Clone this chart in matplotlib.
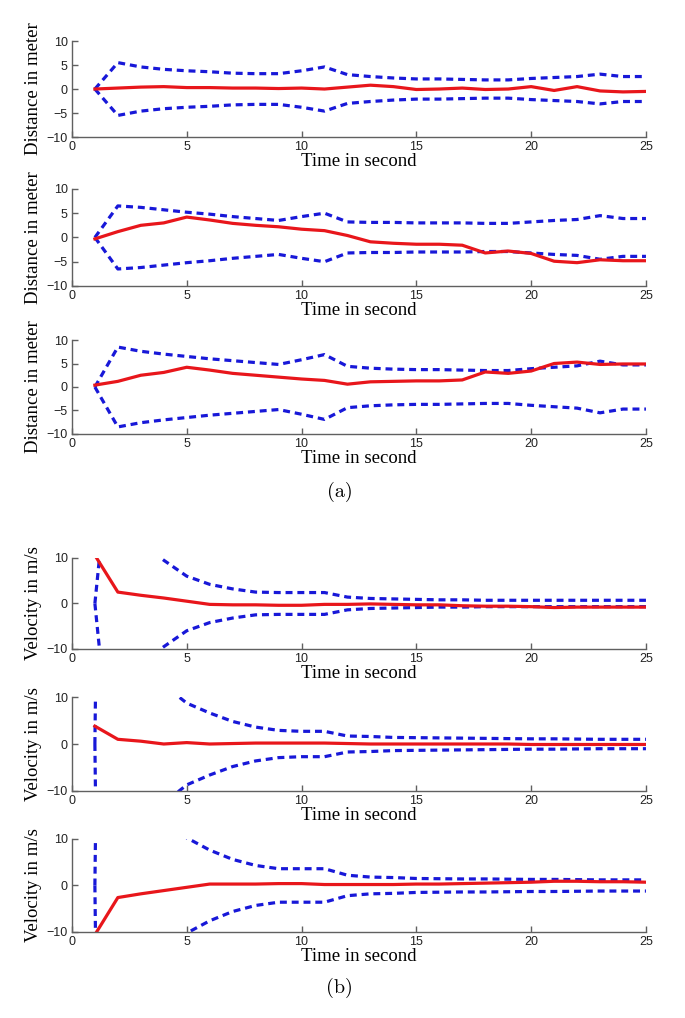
import matplotlib.pyplot as plt

plt.rcParams['lines.scale_dashes'] = False

t = list(range(1, 26))

# (a) distance estimates and bounds
dist1 = [0, 0.2, 0.4, 0.5, 0.3, 0.3, 0.2, 0.2, 0.1, 0.2, 0.0, 0.4, 0.8,
         0.5, -0.1, 0.0, 0.2, -0.1, 0.0, 0.5, -0.3, 0.5, -0.4, -0.6, -0.5]
dist1_hi = [0, 5.5, 4.6, 4.1, 3.8, 3.6, 3.3, 3.2, 3.2, 3.8, 4.6, 3.0, 2.6,
            2.3, 2.1, 2.1, 2.0, 1.9, 1.9, 2.2, 2.4, 2.6, 3.1, 2.6, 2.6]
dist1_lo = [0, -5.5, -4.6, -4.1, -3.8, -3.6, -3.3, -3.2, -3.2, -3.8, -4.6, -3.0, -2.6,
            -2.3, -2.1, -2.1, -2.0, -1.9, -1.9, -2.2, -2.4, -2.6, -3.1, -2.6, -2.6]

dist2 = [-0.3, 1.2, 2.5, 3.0, 4.2, 3.6, 2.9, 2.5, 2.2, 1.7, 1.4, 0.4, -0.9,
         -1.2, -1.4, -1.4, -1.6, -3.2, -2.8, -3.3, -4.9, -5.2, -4.6, -4.8, -4.8]
dist2_hi = [0, 6.5, 6.2, 5.7, 5.2, 4.8, 4.3, 3.9, 3.5, 4.3, 5.0, 3.2, 3.1,
            3.1, 3.0, 3.0, 3.0, 2.9, 2.9, 3.2, 3.5, 3.7, 4.5, 3.9, 3.9]
dist2_lo = [0, -6.5, -6.2, -5.7, -5.2, -4.8, -4.3, -3.9, -3.5, -4.3, -5.0, -3.2, -3.1,
            -3.1, -3.0, -3.0, -3.0, -2.9, -2.9, -3.2, -3.5, -3.7, -4.5, -3.9, -3.9]

dist3 = [0.4, 1.2, 2.5, 3.1, 4.2, 3.6, 2.9, 2.5, 2.1, 1.7, 1.4, 0.6, 1.1,
         1.2, 1.3, 1.3, 1.5, 3.2, 2.9, 3.4, 5.0, 5.3, 4.8, 4.9, 4.9]
dist3_hi = [0, 8.5, 7.6, 7.0, 6.5, 6.0, 5.6, 5.2, 4.8, 5.8, 6.9, 4.4, 4.0,
            3.8, 3.7, 3.7, 3.6, 3.5, 3.5, 3.9, 4.2, 4.5, 5.5, 4.7, 4.7]
dist3_lo = [0, -8.5, -7.6, -7.0, -6.5, -6.0, -5.6, -5.2, -4.8, -5.8, -6.9, -4.4, -4.0,
            -3.8, -3.7, -3.7, -3.6, -3.5, -3.5, -3.9, -4.2, -4.5, -5.5, -4.7, -4.7]

# (b) velocity estimates and bounds
vel1 = [10.6, 2.5, 1.8, 1.2, 0.5, -0.2, -0.3, -0.3, -0.4, -0.4, -0.2, -0.2, -0.1,
        -0.2, -0.3, -0.3, -0.5, -0.6, -0.6, -0.7, -0.9, -0.8, -0.8, -0.8, -0.8]
vel1_hi = [0, 50, 13.3, 9.5, 6.0, 4.2, 3.2, 2.5, 2.4, 2.4, 2.4, 1.4, 1.1,
           1.0, 0.9, 0.8, 0.8, 0.7, 0.7, 0.7, 0.7, 0.7, 0.7, 0.7, 0.7]
vel1_lo = [0, -50, -13.3, -9.5, -6.0, -4.2, -3.2, -2.5, -2.4, -2.4, -2.4, -1.4, -1.1,
           -1.0, -0.9, -0.8, -0.8, -0.7, -0.7, -0.7, -0.7, -0.7, -0.7, -0.7, -0.7]

vel2 = [3.8, 1.0, 0.6, 0.0, 0.3, 0.0, 0.1, 0.2, 0.2, 0.2, 0.2, 0.1, 0.0,
        0.0, 0.0, 0.0, 0.0, 0.0, 0.0, -0.1, -0.1, -0.1, -0.1, -0.1, -0.1]
vel2_hi = [0, 400, 40, 12.6, 8.7, 6.6, 4.8, 3.6, 2.9, 2.7, 2.7, 1.7, 1.6,
           1.4, 1.35, 1.3, 1.25, 1.2, 1.15, 1.1, 1.1, 1.05, 1.0, 1.0, 1.0]
vel2_lo = [0, -400, -40, -12.6, -8.7, -6.6, -4.8, -3.6, -2.9, -2.7, -2.7, -1.7, -1.6,
           -1.4, -1.35, -1.3, -1.25, -1.2, -1.15, -1.1, -1.1, -1.05, -1.0, -1.0, -1.0]

vel3 = [-10.6, -2.6, -1.8, -1.1, -0.4, 0.3, 0.3, 0.3, 0.4, 0.4, 0.2, 0.2, 0.2,
        0.2, 0.3, 0.3, 0.4, 0.5, 0.6, 0.7, 0.9, 0.9, 0.8, 0.8, 0.7]
vel3_hi = [0, 400, 60, 25, 10.24, 7.6, 5.6, 4.3, 3.6, 3.6, 3.6, 2.2, 1.8,
           1.7, 1.5, 1.45, 1.4, 1.4, 1.35, 1.3, 1.3, 1.25, 1.2, 1.2, 1.2]
vel3_lo = [0, -400, -60, -25, -10.24, -7.6, -5.6, -4.3, -3.6, -3.6, -3.6, -2.2, -1.8,
           -1.7, -1.5, -1.45, -1.4, -1.4, -1.35, -1.3, -1.3, -1.25, -1.2, -1.2, -1.2]

panels = [
    (dist1, dist1_hi, dist1_lo, 'Distance in meter', [-10, -5, 0, 5, 10]),
    (dist2, dist2_hi, dist2_lo, 'Distance in meter', [-10, -5, 0, 5, 10]),
    (dist3, dist3_hi, dist3_lo, 'Distance in meter', [-10, -5, 0, 5, 10]),
    (vel1, vel1_hi, vel1_lo, 'Velocity in m/s', [-10, 0, 10]),
    (vel2, vel2_hi, vel2_lo, 'Velocity in m/s', [-10, 0, 10]),
    (vel3, vel3_hi, vel3_lo, 'Velocity in m/s', [-10, 0, 10]),
]

# axes rectangles in figure fractions (left, bottom, width, height)
rects = [
    (0.105, 0.8654, 0.838, 0.0943),
    (0.105, 0.7191, 0.838, 0.0953),
    (0.105, 0.5737, 0.838, 0.0923),
    (0.105, 0.3625, 0.838, 0.0894),
    (0.105, 0.2230, 0.838, 0.0923),
    (0.105, 0.0845, 0.838, 0.0914),
]

red = '#e8161b'
blue = '#1818d8'
spine_col = '#606060'

fig = plt.figure(figsize=(6.85, 10.18), dpi=100)

for (est, hi, lo, ylab, yticks), rect in zip(panels, rects):
    ax = fig.add_axes(rect)
    ax.plot(t, hi, color=blue, lw=2.3, dashes=(5, 3.5))
    ax.plot(t, lo, color=blue, lw=2.3, dashes=(5, 3.5))
    ax.plot(t, est, color=red, lw=2.3)
    ax.set_xlim(0, 25)
    ax.set_ylim(-10, 10)
    ax.set_xticks([0, 5, 10, 15, 20, 25])
    ax.set_yticks(yticks)
    for s in ['top', 'right']:
        ax.spines[s].set_visible(False)
    for s in ['left', 'bottom']:
        ax.spines[s].set_color(spine_col)
        ax.spines[s].set_linewidth(1.0)
    ax.tick_params(direction='in', length=4, width=1.0, color=spine_col,
                   labelsize=9, pad=3, labelcolor='#222222')
    for lab in ax.get_xticklabels() + ax.get_yticklabels():
        lab.set_family('Liberation Sans')
    ax.set_xlabel('Time in second', family='Liberation Serif', fontsize=13.5,
                  labelpad=0)
    ax.set_ylabel(ylab, family='Liberation Serif', fontsize=13.5)
    ax.yaxis.set_label_coords(-0.052, 0.5)

fig.text(0.496, 1 - 492 / 1018, '(a)', family='cmr10', fontsize=14.5,
         ha='center', va='center')
fig.text(0.496, 1 - 988 / 1018, '(b)', family='cmr10', fontsize=14.5,
         ha='center', va='center')

fig.savefig('out.png', dpi=100)
